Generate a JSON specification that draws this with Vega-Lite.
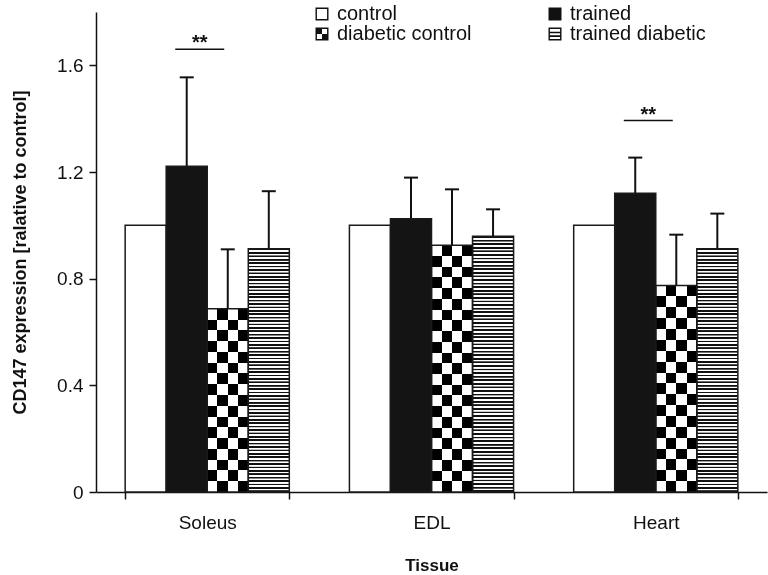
{
  "$schema": "https://vega.github.io/schema/vega-lite/v6.json",
  "width": 671,
  "height": 480,
  "autosize": "none",
  "padding": {"left": 96, "top": 12, "right": 1, "bottom": 83},
  "background": "white",
  "config": {
    "view": {"stroke": null},
    "font": "Liberation Sans",
    "axis": {"domainColor": "#111", "domainWidth": 1.5, "tickColor": "#111", "tickWidth": 1.5, "tickSize": 7, "labelFont": "Liberation Sans", "labelFontSize": 19, "labelColor": "#111", "titleFont": "Liberation Sans", "titleFontWeight": "bold", "titleColor": "#111", "grid": false},
    "axisX": {"tickBand": "extent", "labelAngle": 0, "labelPadding": 14, "labelBaseline": "top", "titleFontSize": 17, "titleY": 73, "titleBaseline": "middle"},
    "axisY": {"labelPadding": 6, "titleFontSize": 18, "titleX": -76, "titleY": 240, "titleBaseline": "middle", "titleAngle": 270}
  },
  "datasets": {
    "bars": [
      {"tissue": "Soleus", "group": "control", "mean": 1.0, "upper": null},
      {"tissue": "Soleus", "group": "trained", "mean": 1.222, "upper": 1.555},
      {"tissue": "Soleus", "group": "diabetic control", "mean": 0.687, "upper": 0.91},
      {"tissue": "Soleus", "group": "trained diabetic", "mean": 0.912, "upper": 1.128},
      {"tissue": "EDL", "group": "control", "mean": 1.0, "upper": null},
      {"tissue": "EDL", "group": "trained", "mean": 1.025, "upper": 1.179},
      {"tissue": "EDL", "group": "diabetic control", "mean": 0.925, "upper": 1.135},
      {"tissue": "EDL", "group": "trained diabetic", "mean": 0.959, "upper": 1.06},
      {"tissue": "Heart", "group": "control", "mean": 1.0, "upper": null},
      {"tissue": "Heart", "group": "trained", "mean": 1.12, "upper": 1.254},
      {"tissue": "Heart", "group": "diabetic control", "mean": 0.774, "upper": 0.965},
      {"tissue": "Heart", "group": "trained diabetic", "mean": 0.912, "upper": 1.044}
    ],
    "sig": [
      {"tissue": "Soleus", "y": 1.66, "label": "**"},
      {"tissue": "Heart", "y": 1.393, "label": "**"}
    ]
  },
  "layer": [
    {
      "data": {"name": "bars"},
      "encoding": {
        "x": {"field": "tissue", "type": "nominal", "sort": ["Soleus", "EDL", "Heart"], "title": "Tissue", "scale": {"paddingInner": 0.268, "paddingOuter": 0.13}},
        "xOffset": {"field": "group", "type": "nominal", "scale": {"domain": ["control", "trained", "diabetic control", "trained diabetic"], "paddingInner": 0, "paddingOuter": 0}},
        "y": {"field": "mean", "type": "quantitative", "title": "CD147 expression [ralative to control]", "scale": {"domain": [0, 1.8], "nice": false}, "axis": {"values": [0, 0.4, 0.8, 1.2, 1.6], "labelExpr": "datum.value == 0 ? '0' : format(datum.value, '.1f')"}}
      },
      "layer": [
        {
          "transform": [{"filter": "datum.group === 'control' || datum.group === 'trained'"}],
          "mark": {"type": "bar"},
          "encoding": {"fill": {"condition": {"test": "datum.group === 'trained'", "value": "#141414"}, "value": "#ffffff"}}
        },
        {
          "transform": [{"filter": "datum.group === 'diabetic control'"}],
          "mark": {"type": "bar", "fill": {"gradient": "linear", "x1": 0, "y1": 0, "x2": 1, "y2": 0, "stops": [
            {"offset": 0, "color": "#fff"}, {"offset": 0.25, "color": "#fff"}, {"offset": 0.25, "color": "#000"}, {"offset": 0.5, "color": "#000"},
            {"offset": 0.5, "color": "#fff"}, {"offset": 0.75, "color": "#fff"}, {"offset": 0.75, "color": "#000"}, {"offset": 1, "color": "#000"}]}}
        },
        {
          "transform": [{"filter": "datum.group === 'diabetic control' && datum.tissue === 'Soleus'"}],
          "mark": {"type": "bar", "blend": "difference", "fill": {"gradient": "linear", "x1": 0, "y1": 0, "x2": 0, "y2": 1, "stops": [
            {"offset": 0, "color": "#000"}, {"offset": 0.0588, "color": "#000"}, {"offset": 0.0588, "color": "#fff"}, {"offset": 0.1176, "color": "#fff"},
            {"offset": 0.1176, "color": "#000"}, {"offset": 0.1765, "color": "#000"}, {"offset": 0.1765, "color": "#fff"}, {"offset": 0.2353, "color": "#fff"},
            {"offset": 0.2353, "color": "#000"}, {"offset": 0.2941, "color": "#000"}, {"offset": 0.2941, "color": "#fff"}, {"offset": 0.3529, "color": "#fff"},
            {"offset": 0.3529, "color": "#000"}, {"offset": 0.4118, "color": "#000"}, {"offset": 0.4118, "color": "#fff"}, {"offset": 0.4706, "color": "#fff"},
            {"offset": 0.4706, "color": "#000"}, {"offset": 0.5294, "color": "#000"}, {"offset": 0.5294, "color": "#fff"}, {"offset": 0.5882, "color": "#fff"},
            {"offset": 0.5882, "color": "#000"}, {"offset": 0.6471, "color": "#000"}, {"offset": 0.6471, "color": "#fff"}, {"offset": 0.7059, "color": "#fff"},
            {"offset": 0.7059, "color": "#000"}, {"offset": 0.7647, "color": "#000"}, {"offset": 0.7647, "color": "#fff"}, {"offset": 0.8235, "color": "#fff"},
            {"offset": 0.8235, "color": "#000"}, {"offset": 0.8824, "color": "#000"}, {"offset": 0.8824, "color": "#fff"}, {"offset": 0.9412, "color": "#fff"},
            {"offset": 0.9412, "color": "#000"}, {"offset": 1, "color": "#000"}]}}
        },
        {
          "transform": [{"filter": "datum.group === 'diabetic control' && datum.tissue === 'EDL'"}],
          "mark": {"type": "bar", "blend": "difference", "fill": {"gradient": "linear", "x1": 0, "y1": 0, "x2": 0, "y2": 1, "stops": [
            {"offset": 0, "color": "#000"}, {"offset": 0.0435, "color": "#000"}, {"offset": 0.0435, "color": "#fff"}, {"offset": 0.087, "color": "#fff"},
            {"offset": 0.087, "color": "#000"}, {"offset": 0.1304, "color": "#000"}, {"offset": 0.1304, "color": "#fff"}, {"offset": 0.1739, "color": "#fff"},
            {"offset": 0.1739, "color": "#000"}, {"offset": 0.2174, "color": "#000"}, {"offset": 0.2174, "color": "#fff"}, {"offset": 0.2609, "color": "#fff"},
            {"offset": 0.2609, "color": "#000"}, {"offset": 0.3043, "color": "#000"}, {"offset": 0.3043, "color": "#fff"}, {"offset": 0.3478, "color": "#fff"},
            {"offset": 0.3478, "color": "#000"}, {"offset": 0.3913, "color": "#000"}, {"offset": 0.3913, "color": "#fff"}, {"offset": 0.4348, "color": "#fff"},
            {"offset": 0.4348, "color": "#000"}, {"offset": 0.4783, "color": "#000"}, {"offset": 0.4783, "color": "#fff"}, {"offset": 0.5217, "color": "#fff"},
            {"offset": 0.5217, "color": "#000"}, {"offset": 0.5652, "color": "#000"}, {"offset": 0.5652, "color": "#fff"}, {"offset": 0.6087, "color": "#fff"},
            {"offset": 0.6087, "color": "#000"}, {"offset": 0.6522, "color": "#000"}, {"offset": 0.6522, "color": "#fff"}, {"offset": 0.6957, "color": "#fff"},
            {"offset": 0.6957, "color": "#000"}, {"offset": 0.7391, "color": "#000"}, {"offset": 0.7391, "color": "#fff"}, {"offset": 0.7826, "color": "#fff"},
            {"offset": 0.7826, "color": "#000"}, {"offset": 0.8261, "color": "#000"}, {"offset": 0.8261, "color": "#fff"}, {"offset": 0.8696, "color": "#fff"},
            {"offset": 0.8696, "color": "#000"}, {"offset": 0.913, "color": "#000"}, {"offset": 0.913, "color": "#fff"}, {"offset": 0.9565, "color": "#fff"},
            {"offset": 0.9565, "color": "#000"}, {"offset": 1, "color": "#000"}]}}
        },
        {
          "transform": [{"filter": "datum.group === 'diabetic control' && datum.tissue === 'Heart'"}],
          "mark": {"type": "bar", "blend": "difference", "fill": {"gradient": "linear", "x1": 0, "y1": 0, "x2": 0, "y2": 1, "stops": [
            {"offset": 0, "color": "#000"}, {"offset": 0.0526, "color": "#000"}, {"offset": 0.0526, "color": "#fff"}, {"offset": 0.1053, "color": "#fff"},
            {"offset": 0.1053, "color": "#000"}, {"offset": 0.1579, "color": "#000"}, {"offset": 0.1579, "color": "#fff"}, {"offset": 0.2105, "color": "#fff"},
            {"offset": 0.2105, "color": "#000"}, {"offset": 0.2632, "color": "#000"}, {"offset": 0.2632, "color": "#fff"}, {"offset": 0.3158, "color": "#fff"},
            {"offset": 0.3158, "color": "#000"}, {"offset": 0.3684, "color": "#000"}, {"offset": 0.3684, "color": "#fff"}, {"offset": 0.4211, "color": "#fff"},
            {"offset": 0.4211, "color": "#000"}, {"offset": 0.4737, "color": "#000"}, {"offset": 0.4737, "color": "#fff"}, {"offset": 0.5263, "color": "#fff"},
            {"offset": 0.5263, "color": "#000"}, {"offset": 0.5789, "color": "#000"}, {"offset": 0.5789, "color": "#fff"}, {"offset": 0.6316, "color": "#fff"},
            {"offset": 0.6316, "color": "#000"}, {"offset": 0.6842, "color": "#000"}, {"offset": 0.6842, "color": "#fff"}, {"offset": 0.7368, "color": "#fff"},
            {"offset": 0.7368, "color": "#000"}, {"offset": 0.7895, "color": "#000"}, {"offset": 0.7895, "color": "#fff"}, {"offset": 0.8421, "color": "#fff"},
            {"offset": 0.8421, "color": "#000"}, {"offset": 0.8947, "color": "#000"}, {"offset": 0.8947, "color": "#fff"}, {"offset": 0.9474, "color": "#fff"},
            {"offset": 0.9474, "color": "#000"}, {"offset": 1, "color": "#000"}]}}
        },
        {
          "transform": [{"filter": "datum.group === 'trained diabetic'"}],
          "mark": {"type": "bar", "fill": {"gradient": "linear", "x1": 0, "y1": 0, "x2": 0, "y2": 1, "stops": [
            {"offset": 0, "color": "#111"}, {"offset": 0.006, "color": "#111"}, {"offset": 0.007, "color": "#fff"}, {"offset": 0.013, "color": "#fff"},
            {"offset": 0.014, "color": "#111"}, {"offset": 0.02, "color": "#111"}, {"offset": 0.021, "color": "#fff"}, {"offset": 0.027, "color": "#fff"},
            {"offset": 0.028, "color": "#111"}, {"offset": 0.034, "color": "#111"}, {"offset": 0.035, "color": "#fff"}, {"offset": 0.041, "color": "#fff"},
            {"offset": 0.042, "color": "#111"}, {"offset": 0.048, "color": "#111"}, {"offset": 0.049, "color": "#fff"}, {"offset": 0.055, "color": "#fff"},
            {"offset": 0.056, "color": "#111"}, {"offset": 0.062, "color": "#111"}, {"offset": 0.063, "color": "#fff"}, {"offset": 0.069, "color": "#fff"},
            {"offset": 0.07, "color": "#111"}, {"offset": 0.076, "color": "#111"}, {"offset": 0.077, "color": "#fff"}, {"offset": 0.083, "color": "#fff"},
            {"offset": 0.084, "color": "#111"}, {"offset": 0.09, "color": "#111"}, {"offset": 0.091, "color": "#fff"}, {"offset": 0.097, "color": "#fff"},
            {"offset": 0.098, "color": "#111"}, {"offset": 0.104, "color": "#111"}, {"offset": 0.105, "color": "#fff"}, {"offset": 0.111, "color": "#fff"},
            {"offset": 0.112, "color": "#111"}, {"offset": 0.118, "color": "#111"}, {"offset": 0.119, "color": "#fff"}, {"offset": 0.125, "color": "#fff"},
            {"offset": 0.126, "color": "#111"}, {"offset": 0.132, "color": "#111"}, {"offset": 0.133, "color": "#fff"}, {"offset": 0.139, "color": "#fff"},
            {"offset": 0.14, "color": "#111"}, {"offset": 0.146, "color": "#111"}, {"offset": 0.147, "color": "#fff"}, {"offset": 0.153, "color": "#fff"},
            {"offset": 0.154, "color": "#111"}, {"offset": 0.16, "color": "#111"}, {"offset": 0.161, "color": "#fff"}, {"offset": 0.167, "color": "#fff"},
            {"offset": 0.168, "color": "#111"}, {"offset": 0.174, "color": "#111"}, {"offset": 0.175, "color": "#fff"}, {"offset": 0.181, "color": "#fff"},
            {"offset": 0.182, "color": "#111"}, {"offset": 0.188, "color": "#111"}, {"offset": 0.189, "color": "#fff"}, {"offset": 0.195, "color": "#fff"},
            {"offset": 0.196, "color": "#111"}, {"offset": 0.202, "color": "#111"}, {"offset": 0.203, "color": "#fff"}, {"offset": 0.209, "color": "#fff"},
            {"offset": 0.21, "color": "#111"}, {"offset": 0.216, "color": "#111"}, {"offset": 0.217, "color": "#fff"}, {"offset": 0.223, "color": "#fff"},
            {"offset": 0.224, "color": "#111"}, {"offset": 0.23, "color": "#111"}, {"offset": 0.231, "color": "#fff"}, {"offset": 0.237, "color": "#fff"},
            {"offset": 0.238, "color": "#111"}, {"offset": 0.244, "color": "#111"}, {"offset": 0.245, "color": "#fff"}, {"offset": 0.251, "color": "#fff"},
            {"offset": 0.252, "color": "#111"}, {"offset": 0.258, "color": "#111"}, {"offset": 0.259, "color": "#fff"}, {"offset": 0.265, "color": "#fff"},
            {"offset": 0.266, "color": "#111"}, {"offset": 0.272, "color": "#111"}, {"offset": 0.273, "color": "#fff"}, {"offset": 0.279, "color": "#fff"},
            {"offset": 0.28, "color": "#111"}, {"offset": 0.286, "color": "#111"}, {"offset": 0.287, "color": "#fff"}, {"offset": 0.293, "color": "#fff"},
            {"offset": 0.294, "color": "#111"}, {"offset": 0.3, "color": "#111"}, {"offset": 0.301, "color": "#fff"}, {"offset": 0.307, "color": "#fff"},
            {"offset": 0.308, "color": "#111"}, {"offset": 0.314, "color": "#111"}, {"offset": 0.315, "color": "#fff"}, {"offset": 0.321, "color": "#fff"},
            {"offset": 0.322, "color": "#111"}, {"offset": 0.328, "color": "#111"}, {"offset": 0.329, "color": "#fff"}, {"offset": 0.335, "color": "#fff"},
            {"offset": 0.336, "color": "#111"}, {"offset": 0.342, "color": "#111"}, {"offset": 0.343, "color": "#fff"}, {"offset": 0.349, "color": "#fff"},
            {"offset": 0.35, "color": "#111"}, {"offset": 0.356, "color": "#111"}, {"offset": 0.357, "color": "#fff"}, {"offset": 0.363, "color": "#fff"},
            {"offset": 0.364, "color": "#111"}, {"offset": 0.37, "color": "#111"}, {"offset": 0.371, "color": "#fff"}, {"offset": 0.377, "color": "#fff"},
            {"offset": 0.378, "color": "#111"}, {"offset": 0.384, "color": "#111"}, {"offset": 0.385, "color": "#fff"}, {"offset": 0.391, "color": "#fff"},
            {"offset": 0.392, "color": "#111"}, {"offset": 0.398, "color": "#111"}, {"offset": 0.399, "color": "#fff"}, {"offset": 0.405, "color": "#fff"},
            {"offset": 0.406, "color": "#111"}, {"offset": 0.412, "color": "#111"}, {"offset": 0.413, "color": "#fff"}, {"offset": 0.419, "color": "#fff"},
            {"offset": 0.42, "color": "#111"}, {"offset": 0.426, "color": "#111"}, {"offset": 0.427, "color": "#fff"}, {"offset": 0.433, "color": "#fff"},
            {"offset": 0.434, "color": "#111"}, {"offset": 0.44, "color": "#111"}, {"offset": 0.441, "color": "#fff"}, {"offset": 0.447, "color": "#fff"},
            {"offset": 0.448, "color": "#111"}, {"offset": 0.454, "color": "#111"}, {"offset": 0.455, "color": "#fff"}, {"offset": 0.461, "color": "#fff"},
            {"offset": 0.462, "color": "#111"}, {"offset": 0.468, "color": "#111"}, {"offset": 0.469, "color": "#fff"}, {"offset": 0.475, "color": "#fff"},
            {"offset": 0.476, "color": "#111"}, {"offset": 0.482, "color": "#111"}, {"offset": 0.483, "color": "#fff"}, {"offset": 0.489, "color": "#fff"},
            {"offset": 0.49, "color": "#111"}, {"offset": 0.496, "color": "#111"}, {"offset": 0.497, "color": "#fff"}, {"offset": 0.503, "color": "#fff"},
            {"offset": 0.504, "color": "#111"}, {"offset": 0.51, "color": "#111"}, {"offset": 0.511, "color": "#fff"}, {"offset": 0.517, "color": "#fff"},
            {"offset": 0.518, "color": "#111"}, {"offset": 0.524, "color": "#111"}, {"offset": 0.525, "color": "#fff"}, {"offset": 0.531, "color": "#fff"},
            {"offset": 0.532, "color": "#111"}, {"offset": 0.538, "color": "#111"}, {"offset": 0.539, "color": "#fff"}, {"offset": 0.545, "color": "#fff"},
            {"offset": 0.546, "color": "#111"}, {"offset": 0.552, "color": "#111"}, {"offset": 0.553, "color": "#fff"}, {"offset": 0.559, "color": "#fff"},
            {"offset": 0.56, "color": "#111"}, {"offset": 0.566, "color": "#111"}, {"offset": 0.567, "color": "#fff"}, {"offset": 0.573, "color": "#fff"},
            {"offset": 0.574, "color": "#111"}, {"offset": 0.58, "color": "#111"}, {"offset": 0.581, "color": "#fff"}, {"offset": 0.587, "color": "#fff"},
            {"offset": 0.588, "color": "#111"}, {"offset": 0.594, "color": "#111"}, {"offset": 0.595, "color": "#fff"}, {"offset": 0.601, "color": "#fff"},
            {"offset": 0.602, "color": "#111"}, {"offset": 0.608, "color": "#111"}, {"offset": 0.609, "color": "#fff"}, {"offset": 0.615, "color": "#fff"},
            {"offset": 0.616, "color": "#111"}, {"offset": 0.622, "color": "#111"}, {"offset": 0.623, "color": "#fff"}, {"offset": 0.629, "color": "#fff"},
            {"offset": 0.63, "color": "#111"}, {"offset": 0.636, "color": "#111"}, {"offset": 0.637, "color": "#fff"}, {"offset": 0.643, "color": "#fff"},
            {"offset": 0.644, "color": "#111"}, {"offset": 0.65, "color": "#111"}, {"offset": 0.651, "color": "#fff"}, {"offset": 0.657, "color": "#fff"},
            {"offset": 0.658, "color": "#111"}, {"offset": 0.664, "color": "#111"}, {"offset": 0.665, "color": "#fff"}, {"offset": 0.671, "color": "#fff"},
            {"offset": 0.672, "color": "#111"}, {"offset": 0.678, "color": "#111"}, {"offset": 0.679, "color": "#fff"}, {"offset": 0.685, "color": "#fff"},
            {"offset": 0.686, "color": "#111"}, {"offset": 0.692, "color": "#111"}, {"offset": 0.693, "color": "#fff"}, {"offset": 0.699, "color": "#fff"},
            {"offset": 0.7, "color": "#111"}, {"offset": 0.706, "color": "#111"}, {"offset": 0.707, "color": "#fff"}, {"offset": 0.713, "color": "#fff"},
            {"offset": 0.714, "color": "#111"}, {"offset": 0.72, "color": "#111"}, {"offset": 0.721, "color": "#fff"}, {"offset": 0.727, "color": "#fff"},
            {"offset": 0.728, "color": "#111"}, {"offset": 0.734, "color": "#111"}, {"offset": 0.735, "color": "#fff"}, {"offset": 0.741, "color": "#fff"},
            {"offset": 0.742, "color": "#111"}, {"offset": 0.748, "color": "#111"}, {"offset": 0.749, "color": "#fff"}, {"offset": 0.755, "color": "#fff"},
            {"offset": 0.756, "color": "#111"}, {"offset": 0.762, "color": "#111"}, {"offset": 0.763, "color": "#fff"}, {"offset": 0.769, "color": "#fff"},
            {"offset": 0.77, "color": "#111"}, {"offset": 0.776, "color": "#111"}, {"offset": 0.777, "color": "#fff"}, {"offset": 0.783, "color": "#fff"},
            {"offset": 0.784, "color": "#111"}, {"offset": 0.79, "color": "#111"}, {"offset": 0.791, "color": "#fff"}, {"offset": 0.797, "color": "#fff"},
            {"offset": 0.798, "color": "#111"}, {"offset": 0.804, "color": "#111"}, {"offset": 0.805, "color": "#fff"}, {"offset": 0.811, "color": "#fff"},
            {"offset": 0.812, "color": "#111"}, {"offset": 0.818, "color": "#111"}, {"offset": 0.819, "color": "#fff"}, {"offset": 0.825, "color": "#fff"},
            {"offset": 0.826, "color": "#111"}, {"offset": 0.832, "color": "#111"}, {"offset": 0.833, "color": "#fff"}, {"offset": 0.839, "color": "#fff"},
            {"offset": 0.84, "color": "#111"}, {"offset": 0.846, "color": "#111"}, {"offset": 0.847, "color": "#fff"}, {"offset": 0.853, "color": "#fff"},
            {"offset": 0.854, "color": "#111"}, {"offset": 0.86, "color": "#111"}, {"offset": 0.861, "color": "#fff"}, {"offset": 0.867, "color": "#fff"},
            {"offset": 0.868, "color": "#111"}, {"offset": 0.874, "color": "#111"}, {"offset": 0.875, "color": "#fff"}, {"offset": 0.881, "color": "#fff"},
            {"offset": 0.882, "color": "#111"}, {"offset": 0.888, "color": "#111"}, {"offset": 0.889, "color": "#fff"}, {"offset": 0.895, "color": "#fff"},
            {"offset": 0.896, "color": "#111"}, {"offset": 0.902, "color": "#111"}, {"offset": 0.903, "color": "#fff"}, {"offset": 0.909, "color": "#fff"},
            {"offset": 0.91, "color": "#111"}, {"offset": 0.916, "color": "#111"}, {"offset": 0.917, "color": "#fff"}, {"offset": 0.923, "color": "#fff"},
            {"offset": 0.924, "color": "#111"}, {"offset": 0.93, "color": "#111"}, {"offset": 0.931, "color": "#fff"}, {"offset": 0.937, "color": "#fff"},
            {"offset": 0.938, "color": "#111"}, {"offset": 0.944, "color": "#111"}, {"offset": 0.945, "color": "#fff"}, {"offset": 0.951, "color": "#fff"},
            {"offset": 0.952, "color": "#111"}, {"offset": 0.958, "color": "#111"}, {"offset": 0.959, "color": "#fff"}, {"offset": 0.965, "color": "#fff"},
            {"offset": 0.966, "color": "#111"}, {"offset": 0.972, "color": "#111"}, {"offset": 0.973, "color": "#fff"}, {"offset": 0.979, "color": "#fff"},
            {"offset": 0.98, "color": "#111"}, {"offset": 0.986, "color": "#111"}, {"offset": 0.987, "color": "#fff"}, {"offset": 0.993, "color": "#fff"},
            {"offset": 0.994, "color": "#111"}, {"offset": 1, "color": "#111"}]}}
        },
        {
          "mark": {"type": "bar", "fill": "#fff", "fillOpacity": 0, "stroke": "#1a1a1a", "strokeWidth": 1.5}
        },
        {
          "transform": [{"filter": "datum.upper != null"}],
          "mark": {"type": "rule", "color": "#111", "strokeWidth": 2},
          "encoding": {"y": {"field": "mean", "type": "quantitative", "title": "CD147 expression [ralative to control]"}, "y2": {"field": "upper"}}
        },
        {
          "transform": [{"filter": "datum.upper != null"}],
          "mark": {"type": "tick", "color": "#111", "size": 14, "thickness": 2, "opacity": 1},
          "encoding": {"y": {"field": "upper", "type": "quantitative", "title": "CD147 expression [ralative to control]"}}
        }
      ]
    },
    {
      "data": {"name": "sig"},
      "encoding": {
        "x": {"field": "tissue", "type": "nominal", "sort": ["Soleus", "EDL", "Heart"], "title": "Tissue"},
        "y": {"field": "y", "type": "quantitative", "title": "CD147 expression [ralative to control]"}
      },
      "layer": [
        {"mark": {"type": "tick", "color": "#111", "size": 49, "thickness": 1.5, "xOffset": -7.5, "opacity": 1}},
        {"mark": {"type": "text", "fontSize": 20, "fontWeight": "bold", "color": "#111", "dy": -6, "xOffset": -7.5, "baseline": "middle"}, "encoding": {"text": {"field": "label"}}}
      ]
    },
    {
      "data": {"name": "bars"},
      "transform": [{"filter": "false"}],
      "mark": {"type": "point", "filled": true, "color": "#111", "opacity": 1, "strokeWidth": 0},
      "encoding": {
        "shape": {
          "field": "group", "type": "nominal",
          "scale": {
            "domain": ["control", "trained", "diabetic control", "trained diabetic"],
            "range": [
              "M-1,-1H1V1H-1Z M-0.78,-0.78V0.78H0.78V-0.78Z",
              "M-1,-1H1V1H-1Z",
              "M-1,-1H1V1H-1Z M-0.78,-0.78V0.78H0.78V-0.78Z M-0.78,-0.78H0V0H-0.78Z M0,0H0.78V0.78H0Z",
              "M-1,-1H1V1H-1Z M-0.78,-0.78V0.78H0.78V-0.78Z M-0.78,-0.35H0.78V-0.1H-0.78Z M-0.78,0.2H0.78V0.45H-0.78Z"
            ]
          },
          "legend": {
            "title": null, "orient": "none", "legendX": 216, "legendY": -8, "direction": "horizontal", "columns": 2,
            "columnPadding": 73, "rowPadding": 0, "padding": 0, "labelFont": "Liberation Sans", "labelFontSize": 20, "labelColor": "#111",
            "labelOffset": 5, "symbolSize": 169, "symbolFillColor": "#111", "symbolStrokeColor": "#111", "symbolStrokeWidth": 0, "symbolOpacity": 1
          }
        }
      }
    }
  ]
}
